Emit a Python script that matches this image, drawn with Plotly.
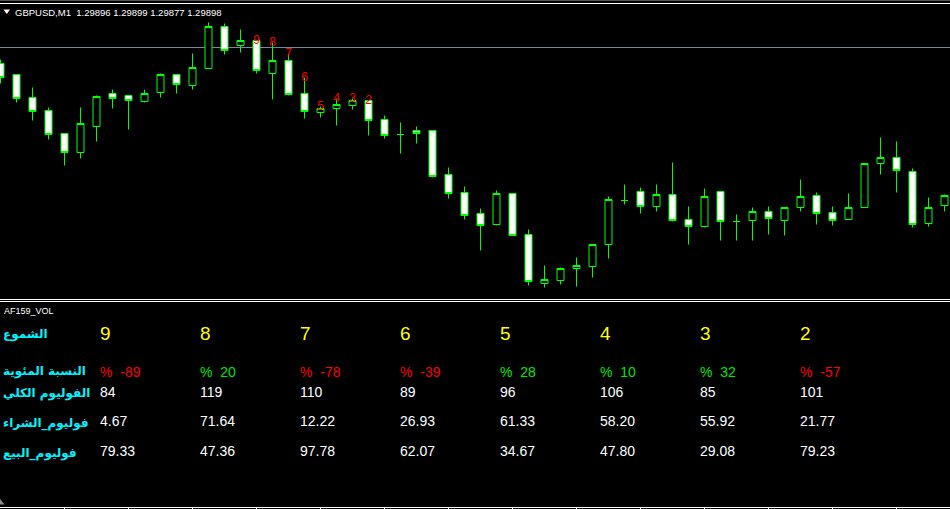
import plotly.graph_objects as go

W, H = 950, 509

# ---------------- data ----------------
symbol_tf = "GBPUSD,M1"
header_ohlc = ["1.29896", "1.29899", "1.29877", "1.29898"]
bid_price = 1.29898
indicator_name = "AF159_VOL"

bar_index = list(range(60))

opens = [1.29882, 1.29871, 1.29848, 1.29835, 1.29812, 1.29793, 1.29819, 1.29852, 1.29850, 1.29844,
         1.29853, 1.29871, 1.29860, 1.29877, 1.29919, 1.29900, 1.29905, 1.29872, 1.29885, 1.29852,
         1.29833, 1.29837, 1.29840, 1.29845, 1.29826, 1.29811, 1.29815, 1.29815, 1.29771, 1.29753,
         1.29732, 1.29721, 1.29752, 1.29711, 1.29662, 1.29665, 1.29677, 1.29679, 1.29701, 1.29745,
         1.29754, 1.29739, 1.29751, 1.29726, 1.29719, 1.29754, 1.29724, 1.29725, 1.29734, 1.29725,
         1.29738, 1.29750, 1.29733, 1.29726, 1.29738, 1.29782, 1.29788, 1.29774, 1.29722, 1.29740]
highs = [1.29886, 1.29871, 1.29858, 1.29838, 1.29812, 1.29838, 1.29850, 1.29856, 1.29850, 1.29856,
         1.29872, 1.29871, 1.29892, 1.29923, 1.29922, 1.29916, 1.29905, 1.29903, 1.29892, 1.29868,
         1.29839, 1.29847, 1.29847, 1.29845, 1.29830, 1.29823, 1.29819, 1.29815, 1.29778, 1.29759,
         1.29737, 1.29755, 1.29752, 1.29716, 1.29680, 1.29678, 1.29688, 1.29701, 1.29749, 1.29761,
         1.29758, 1.29761, 1.29783, 1.29739, 1.29757, 1.29754, 1.29731, 1.29738, 1.29739, 1.29738,
         1.29766, 1.29753, 1.29739, 1.29752, 1.29782, 1.29808, 1.29804, 1.29777, 1.29748, 1.29751]
lows = [1.29862, 1.29843, 1.29825, 1.29806, 1.29780, 1.29787, 1.29804, 1.29837, 1.29816, 1.29843,
        1.29848, 1.29852, 1.29856, 1.29877, 1.29891, 1.29893, 1.29872, 1.29846, 1.29850, 1.29827,
        1.29828, 1.29820, 1.29836, 1.29810, 1.29807, 1.29792, 1.29802, 1.29768, 1.29747, 1.29726,
        1.29695, 1.29720, 1.29710, 1.29660, 1.29658, 1.29661, 1.29659, 1.29668, 1.29687, 1.29741,
        1.29732, 1.29734, 1.29724, 1.29701, 1.29718, 1.29705, 1.29705, 1.29705, 1.29711, 1.29710,
        1.29734, 1.29721, 1.29720, 1.29726, 1.29738, 1.29771, 1.29753, 1.29718, 1.29719, 1.29734]
closes = [1.29868, 1.29847, 1.29834, 1.29811, 1.29793, 1.29822, 1.29849, 1.29847, 1.29845, 1.29852,
          1.29871, 1.29861, 1.29878, 1.29919, 1.29895, 1.29905, 1.29875, 1.29885, 1.29851, 1.29834,
          1.29837, 1.29841, 1.29845, 1.29825, 1.29810, 1.29811, 1.29812, 1.29769, 1.29752, 1.29730,
          1.29720, 1.29752, 1.29710, 1.29664, 1.29666, 1.29677, 1.29680, 1.29701, 1.29746, 1.29745,
          1.29739, 1.29751, 1.29725, 1.29719, 1.29749, 1.29724, 1.29724, 1.29734, 1.29727, 1.29738,
          1.29749, 1.29732, 1.29725, 1.29738, 1.29782, 1.29788, 1.29775, 1.29721, 1.29738, 1.29750]

count_labels = [9, 8, 7, 6, 5, 4, 3, 2]
count_bar_index = [16, 17, 18, 19, 20, 21, 22, 23]

row_labels = ["الشموع", "النسبة المئوية", "الفوليوم الكلي", "فوليوم_الشراء", "فوليوم_البيع"]
candle_counts = [9, 8, 7, 6, 5, 4, 3, 2]
percent = [-89, 20, -78, -39, 28, 10, 32, -57]
total_volume = [84, 119, 110, 89, 96, 106, 85, 101]
buy_volume = [4.67, 71.64, 12.22, 26.93, 61.33, 58.20, 55.92, 21.77]
sell_volume = [79.33, 47.36, 97.78, 62.07, 34.67, 47.80, 29.08, 79.23]

# ---------------- layout constants (pixels) ----------------
BAR_PX = 16.0
MAIN_TOP, MAIN_BOTTOM = 4, 298
BID_ROW = 47.5
PPP = 0.00001  # price per pixel
LIME = "#00ff00"
CYAN = "#00f2ff"
NUM_FONT = "Liberation Sans"
AR_FONT = "DejaVu Sans"


def pxx(x):
    return x / W


def pxy(y):
    return 1 - y / H


fig = go.Figure()
fig.add_trace(go.Candlestick(
    x=bar_index, open=opens, high=highs, low=lows, close=closes,
    increasing=dict(line=dict(color=LIME, width=1), fillcolor="#000000"),
    decreasing=dict(line=dict(color=LIME, width=1), fillcolor="#ffffff"),
    whiskerwidth=0, hoverinfo="skip", showlegend=False,
))

x0 = -0.5 / BAR_PX
x1 = x0 + W / BAR_PX
y_top = bid_price + (BID_ROW - MAIN_TOP) * PPP
y_bot = bid_price - (MAIN_BOTTOM - BID_ROW) * PPP

shapes = []
# bid line
shapes.append(dict(type="line", xref="paper", yref="y", x0=0, x1=1, y0=bid_price, y1=bid_price,
                   line=dict(color="#778899", width=1), layer="below"))
# window borders
for row, col in [(0.5, "#555555"), (3.5, "#ffffff"), (299.5, "#ffffff"), (301.5, "#ffffff")]:
    shapes.append(dict(type="line", xref="paper", yref="paper", x0=0, x1=1, y0=pxy(row), y1=pxy(row),
                       line=dict(color=col, width=1)))
# dropdown triangle in header
shapes.append(dict(type="path", xref="paper", yref="paper",
                   path=f"M{pxx(3.5)},{pxy(9.5)} L{pxx(10.0)},{pxy(9.5)} L{pxx(6.75)},{pxy(14)} Z",
                   fillcolor="#ffffff", line=dict(width=0)))
# small scroll marker bottom-left
shapes.append(dict(type="path", xref="paper", yref="paper",
                   path=f"M{pxx(0)},{pxy(499)} L{pxx(4.5)},{pxy(504.5)} L{pxx(0)},{pxy(504.5)} Z",
                   fillcolor="#8a8f99", line=dict(width=0)))

ann = []
# header
ann.append(dict(xref="paper", yref="paper", x=pxx(15), y=pxy(12), xanchor="left", yanchor="middle",
                text=symbol_tf + "\u00a0\u00a0" + " ".join(header_ohlc), showarrow=False,
                font=dict(family=NUM_FONT, size=9.5, color="#ffffff"), borderpad=0, borderwidth=0))
# indicator name
ann.append(dict(xref="paper", yref="paper", x=pxx(4), y=pxy(310.5), xanchor="left", yanchor="middle",
                text=indicator_name, showarrow=False,
                font=dict(family=NUM_FONT, size=9, color="#ffffff"), borderpad=0, borderwidth=0))
# count labels above candles
for c, i in zip(count_labels, count_bar_index):
    ann.append(dict(xref="x", yref="y", x=bar_index[i], y=highs[i], xanchor="center", yanchor="middle",
                    text=str(c), showarrow=False,
                    font=dict(family="Liberation Mono", size=12, color="#ff0000"), borderpad=0, borderwidth=0))

# table
row_y = [333, 371.5, 391.5, 421.3, 451.3]
label_y = [334, 371.5, 393, 423, 453]
for lab, ly in zip(row_labels, label_y):
    ann.append(dict(xref="paper", yref="paper", x=pxx(3), y=pxy(ly), xanchor="left", yanchor="middle",
                    text="<b>" + lab + "</b>", showarrow=False,
                    font=dict(family=AR_FONT, size=12, color=CYAN), borderpad=0, borderwidth=0))

for j in range(len(candle_counts)):
    cx = pxx(100 + 100 * j)
    cells = [
        (str(candle_counts[j]), "#ffff00", 19),
        ("%\u00a0\u00a0" + str(percent[j]), "#ff0000" if percent[j] < 0 else "#00e600", 14),
        (str(total_volume[j]), "#ffffff", 14),
        (f"{buy_volume[j]:.2f}", "#ffffff", 14),
        (f"{sell_volume[j]:.2f}", "#ffffff", 14),
    ]
    for (txt, col, sz), ry in zip(cells, row_y):
        ann.append(dict(xref="paper", yref="paper", x=cx, y=pxy(ry), xanchor="left", yanchor="middle",
                        text=txt, showarrow=False,
                        font=dict(family=NUM_FONT, size=sz, color=col), borderpad=0, borderwidth=0))

fig.update_layout(
    width=W, height=H, margin=dict(l=0, r=0, t=0, b=0, pad=0),
    paper_bgcolor="#000000", plot_bgcolor="#000000",
    showlegend=False, boxgap=1 - 10 / BAR_PX,
    xaxis=dict(range=[x0, x1], domain=[0, 1], anchor="free", position=2.5 / H,
               showline=True, linecolor="#ffffff", linewidth=1,
               ticks="outside", ticklen=3, tickwidth=1, tickcolor="#ffffff",
               tickvals=bar_index[4::4], showticklabels=False,
               showgrid=False, zeroline=False, rangeslider=dict(visible=False), fixedrange=True),
    yaxis=dict(range=[y_bot, y_top], domain=[pxy(MAIN_BOTTOM), pxy(MAIN_TOP)], visible=False,
               showgrid=False, zeroline=False, fixedrange=True),
    shapes=shapes, annotations=ann,
)

fig.write_html("out.html", config={"displayModeBar": False},
               post_script="document.body.style.margin='0';document.body.style.padding='0';"
                           "document.body.style.overflow='hidden';document.body.style.background='#000';")
